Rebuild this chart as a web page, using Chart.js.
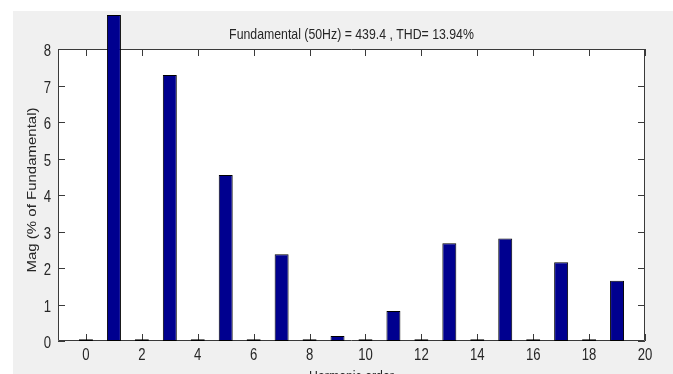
<!DOCTYPE html>
<html>
<head>
<meta charset="utf-8">
<script src="https://cdn.jsdelivr.net/npm/chart.js@4.4.1/dist/chart.umd.min.js"></script>
<style>
  html, body { margin: 0; padding: 0; background: #ffffff; overflow: hidden; }
  #wrap { width: 673px; height: 374px; position: relative; }
  canvas { display: block; }
</style>
</head>
<body>
<div id="wrap"><canvas id="fft" width="673" height="374"></canvas></div>
<script>
// Harmonic spectrum: magnitude of each harmonic in % of the 50 Hz fundamental
const harmonicOrder = [0, 1, 2, 3, 4, 5, 6, 7, 8, 9, 10, 11, 12, 13, 14, 15, 16, 17, 18, 19];
const magnitude = [0.05, 8.93, 0.05, 7.29, 0.05, 4.55, 0.05, 2.38, 0.05, 0.14,
                   0.05, 0.82, 0.05, 2.68, 0.05, 2.81, 0.05, 2.16, 0.05, 1.65];
const xTickValues = [0, 2, 4, 6, 8, 10, 12, 14, 16, 18, 20];
const yTickValues = [0, 1, 2, 3, 4, 5, 6, 7, 8];
const titleText = 'Fundamental (50Hz) = 439.4 , THD= 13.94%';
const xTitleText = 'Harmonic order';
const yTitleText = 'Mag (% of Fundamental)';

const FONT = '"Liberation Sans", Arial, sans-serif';
const FONT_SIZE = 15;
const TICK_FONT_SIZE = 16;
const NARROW = 0.82;          // horizontal squeeze applied to all text
const TEXT_COLOR = '#262626';
const AXIS_COLOR = '#3a3a3a';
const TICK_LEN = 7;

Chart.defaults.font.family = FONT;
Chart.defaults.color = TEXT_COLOR;

// Draws a horizontally condensed text string
function narrowText(ctx, text, x, y, align, baseline) {
  ctx.save();
  ctx.translate(x, y);
  ctx.scale(NARROW, 1);
  ctx.textAlign = align;
  ctx.textBaseline = baseline;
  ctx.fillText(text, 0, 0);
  ctx.restore();
}

// Figure background, white axes area
const backdrop = {
  id: 'backdrop',
  beforeDraw(chart) {
    const { ctx, chartArea: a, width, height } = chart;
    ctx.save();
    ctx.fillStyle = '#ffffff';
    ctx.fillRect(0, 0, width, height);
    ctx.fillStyle = '#f0f0f0';
    ctx.fillRect(13, 11, width - 13, height - 11);
    ctx.fillStyle = '#ffffff';
    ctx.fillRect(a.left, a.top, a.right - a.left, a.bottom - a.top);
    ctx.restore();
  }
};

// Boxed axes with inward tick marks on all four sides
const boxAxes = {
  id: 'boxAxes',
  beforeDatasetsDraw(chart) {
    const { ctx, chartArea: a, scales } = chart;
    ctx.save();
    ctx.strokeStyle = AXIS_COLOR;
    ctx.lineWidth = 1;
    ctx.beginPath();
    ctx.rect(Math.round(a.left) + 0.5, Math.round(a.top) + 0.5,
             Math.round(a.right - a.left) - 1, Math.round(a.bottom - a.top) - 1);
    ctx.stroke();
    ctx.beginPath();
    xTickValues.forEach(v => {
      const x = Math.round(scales.x.getPixelForValue(v)) + 0.5;
      ctx.moveTo(x, a.bottom); ctx.lineTo(x, a.bottom - TICK_LEN);
      ctx.moveTo(x, a.top); ctx.lineTo(x, a.top + TICK_LEN);
    });
    yTickValues.forEach(v => {
      const y = Math.round(scales.y.getPixelForValue(v)) + 0.5;
      ctx.moveTo(a.left, y); ctx.lineTo(a.left + TICK_LEN, y);
      ctx.moveTo(a.right, y); ctx.lineTo(a.right - TICK_LEN, y);
    });
    ctx.stroke();
    ctx.restore();
  }
};

// Tick labels, title and axis labels in a condensed face
const captions = {
  id: 'captions',
  afterDraw(chart) {
    const { ctx, chartArea: a, scales } = chart;
    const cx = (a.left + a.right) / 2;
    ctx.save();
    ctx.fillStyle = TEXT_COLOR;
    ctx.font = TICK_FONT_SIZE + 'px ' + FONT;
    xTickValues.forEach(v => {
      narrowText(ctx, String(v), scales.x.getPixelForValue(v), a.bottom + 19, 'center', 'alphabetic');
    });
    yTickValues.forEach(v => {
      narrowText(ctx, String(v), a.left - 7, scales.y.getPixelForValue(v) + 7, 'right', 'alphabetic');
    });
    ctx.font = FONT_SIZE + 'px ' + FONT;
    narrowText(ctx, titleText, cx, 39, 'center', 'alphabetic');
    narrowText(ctx, xTitleText, cx, 381, 'center', 'alphabetic');
    ctx.translate(33, 190);
    ctx.rotate(-Math.PI / 2);
    ctx.scale(1, NARROW);
    ctx.textAlign = 'center';
    ctx.textBaseline = 'middle';
    ctx.fillText(yTitleText, 0, 0);
    ctx.restore();
  }
};

new Chart(document.getElementById('fft'), {
  type: 'bar',
  data: {
    datasets: [{
      data: harmonicOrder.map((h, i) => ({ x: h, y: magnitude[i] })),
      backgroundColor: '#00008f',
      borderColor: '#000000',
      borderWidth: 1,
      borderSkipped: false,
      barPercentage: 0.5,
      categoryPercentage: 1,
      clip: false
    }]
  },
  options: {
    responsive: false,
    animation: false,
    events: [],
    layout: { padding: { top: 49, right: 28, left: 0, bottom: 0 } },
    plugins: { legend: { display: false }, tooltip: { enabled: false }, title: { display: false } },
    scales: {
      x: {
        type: 'linear',
        min: -1,
        max: 20,
        offset: false,
        grid: { display: false, drawTicks: false },
        border: { display: false },
        afterBuildTicks(scale) { scale.ticks = xTickValues.map(v => ({ value: v })); },
        afterFit(scale) { scale.height = 33; },
        ticks: { display: false }
      },
      y: {
        min: 0,
        max: 8,
        grid: { display: false, drawTicks: false },
        border: { display: false },
        afterBuildTicks(scale) { scale.ticks = yTickValues.map(v => ({ value: v })); },
        afterFit(scale) { scale.width = 58; },
        ticks: { display: false }
      }
    }
  },
  plugins: [backdrop, boxAxes, captions]
});
</script>
</body>
</html>
